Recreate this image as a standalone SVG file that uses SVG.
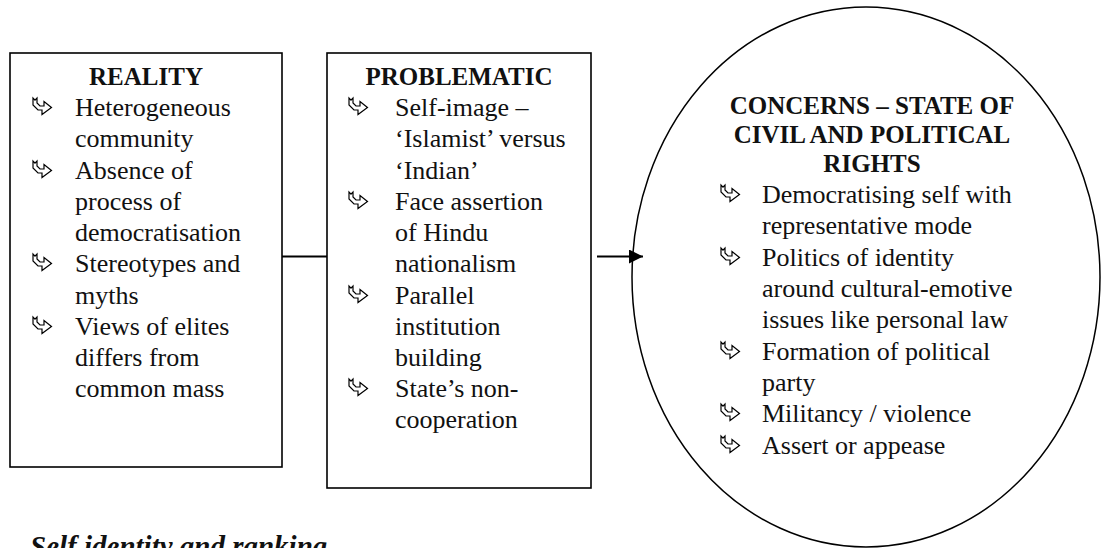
<svg xmlns="http://www.w3.org/2000/svg" width="1103" height="548" viewBox="0 0 1103 548">
<style>
.box{fill:#fff;stroke:#000;stroke-width:1.6}
.ell{fill:none;stroke:#000;stroke-width:1.5}
.t{font-family:"Liberation Serif","Times New Roman",serif;font-size:26px;fill:#111}
.h{font-family:"Liberation Serif","Times New Roman",serif;font-size:25px;font-weight:bold;fill:#111;text-anchor:middle}
.cap{font-family:"Liberation Serif","Times New Roman",serif;font-size:29px;font-weight:bold;font-style:italic;fill:#111}
.conn{stroke:#000;stroke-width:2;fill:none}
</style>
<defs>
<symbol id="bul" viewBox="0 0 20 17" width="20" height="17" overflow="visible">
<path d="M1,0 L1,7 L6,12 L10,12 L10,16.5 L19.5,9.5 L12,3.5 L12,8 L8,8 L5,5 L5,0 L3,2.2 Z" fill="#fff" stroke="#000" stroke-width="1.2" stroke-linejoin="miter"/>
</symbol>
<marker id="arr" markerWidth="14" markerHeight="14" refX="14" refY="7" orient="auto" markerUnits="userSpaceOnUse">
<path d="M0,0 L14,7 L0,14 Z" fill="#000"/>
</marker>
</defs>
<rect width="1103" height="548" fill="#fff"/>

<g id="reality">
<rect class="box" x="10" y="53" width="272" height="414"/>
<text class="h" x="146" y="85">REALITY</text>
<use href="#bul" x="32" y="98"/>
<text class="t" x="75" y="116">Heterogeneous</text>
<text class="t" x="75" y="147">community</text>
<use href="#bul" x="32" y="161"/>
<text class="t" x="75" y="179">Absence of</text>
<text class="t" x="75" y="210">process of</text>
<text class="t" x="75" y="241">democratisation</text>
<use href="#bul" x="32" y="254"/>
<text class="t" x="75" y="272">Stereotypes and</text>
<text class="t" x="75" y="304">myths</text>
<use href="#bul" x="32" y="317"/>
<text class="t" x="75" y="335">Views of elites</text>
<text class="t" x="75" y="366">differs from</text>
<text class="t" x="75" y="397">common mass</text>
</g>

<g id="problematic">
<rect class="box" x="327" y="53" width="264" height="435"/>
<text class="h" x="459" y="85">PROBLEMATIC</text>
<use href="#bul" x="348" y="98"/>
<text class="t" x="395" y="116">Self-image –</text>
<text class="t" x="395" y="147">‘Islamist’ versus</text>
<text class="t" x="395" y="179">‘Indian’</text>
<use href="#bul" x="348" y="192"/>
<text class="t" x="395" y="210">Face assertion</text>
<text class="t" x="395" y="241">of Hindu</text>
<text class="t" x="395" y="272">nationalism</text>
<use href="#bul" x="348" y="286"/>
<text class="t" x="395" y="304">Parallel</text>
<text class="t" x="395" y="335">institution</text>
<text class="t" x="395" y="366">building</text>
<use href="#bul" x="348" y="379"/>
<text class="t" x="395" y="397">State’s non-</text>
<text class="t" x="395" y="428">cooperation</text>
</g>

<g id="concerns">
<ellipse class="ell" cx="866" cy="277" rx="234" ry="270"/>
<text class="h" x="872" y="114">CONCERNS – STATE OF</text>
<text class="h" x="872" y="143">CIVIL AND POLITICAL</text>
<text class="h" x="872" y="172">RIGHTS</text>
<use href="#bul" x="720" y="185"/>
<text class="t" x="762" y="203">Democratising self with</text>
<text class="t" x="762" y="234">representative mode</text>
<use href="#bul" x="720" y="248"/>
<text class="t" x="762" y="266">Politics of identity</text>
<text class="t" x="762" y="297">around cultural-emotive</text>
<text class="t" x="762" y="328">issues like personal law</text>
<use href="#bul" x="720" y="342"/>
<text class="t" x="762" y="360">Formation of political</text>
<text class="t" x="762" y="391">party</text>
<use href="#bul" x="720" y="404"/>
<text class="t" x="762" y="422">Militancy / violence</text>
<use href="#bul" x="720" y="436"/>
<text class="t" x="762" y="454">Assert or appease</text>
</g>

<g id="connectors">
<line class="conn" x1="282" y1="256.5" x2="327" y2="256.5"/>
<line class="conn" x1="597" y1="256.5" x2="643" y2="256.5" marker-end="url(#arr)"/>
</g>

<text class="cap" x="30" y="556">Self identity and ranking</text>
</svg>
